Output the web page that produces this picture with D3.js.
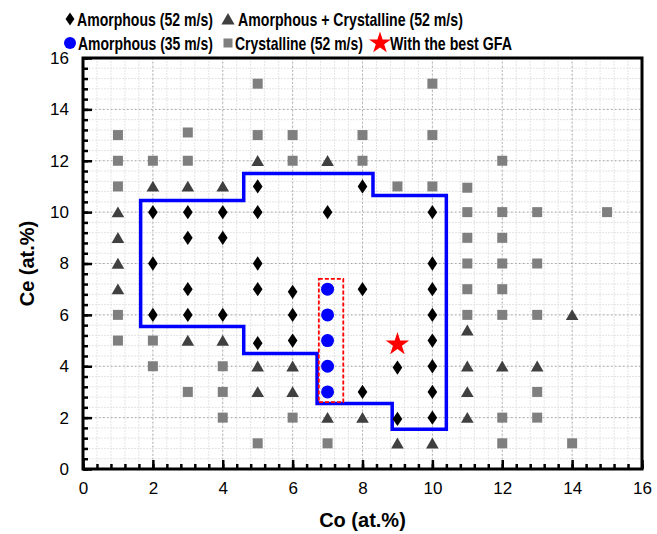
<!DOCTYPE html>
<html>
<head>
<meta charset="utf-8">
<script src="https://cdn.jsdelivr.net/npm/d3@7"></script>
<style>
  body { margin: 0; background: #fff; }
  svg { font-family: "Liberation Sans", Arial, sans-serif; }
</style>
</head>
<body>
<div id="chart"></div>
<script>
// points are [Co, Ce] in at.%
var amorphous52 = [
  [5, 11], [8, 11],
  [2, 10], [3, 10], [4, 10], [5, 10], [7, 10], [10, 10],
  [3, 9], [4, 9],
  [2, 8], [5, 8], [10, 8],
  [3, 7], [5, 7], [6, 6.9], [8, 7], [10, 7],
  [2, 6], [3, 6], [4, 6], [6, 6], [10, 6],
  [5, 4.9], [6, 5], [10, 5],
  [9, 3.95], [10, 4],
  [8, 3], [10, 3],
  [9, 1.95], [10, 2]
];
var amorphousCryst52 = [
  [5, 12], [7, 12],
  [2, 11], [3, 11], [4, 11],
  [1, 10], [1, 9], [1, 8], [1, 7],
  [3, 5], [4, 5],
  [5, 4], [6, 4],
  [5, 3], [6, 3],
  [7, 2], [8, 2],
  [9, 1], [10, 1],
  [14, 6], [11, 5.4],
  [11, 4], [12, 4], [13, 4],
  [11, 3], [11, 2]
];
var crystalline52 = [
  [5, 15], [10, 15],
  [1, 13], [3, 13.1], [5, 13], [6, 13], [8, 13], [10, 13],
  [1, 12], [2, 12], [3, 12], [6, 12], [8, 12], [12, 12],
  [1, 11], [9, 11], [10, 11], [11, 10.95],
  [11, 10], [12, 10], [13, 10], [15, 10],
  [11, 9], [12, 9],
  [11, 8], [12, 8], [13, 8],
  [11, 7], [12, 7],
  [1, 6], [11, 6], [12, 6], [13, 6],
  [1, 5], [2, 5],
  [2, 4], [4, 4],
  [3, 3], [4, 3], [13, 3],
  [4, 2], [6, 2], [12, 2], [13, 2],
  [5, 1], [7, 1], [12, 1], [14, 1]
];
var amorphous35 = [[7, 3], [7, 4], [7, 5], [7, 6], [7, 7]];
var bestGFA = [[9, 4.85]];

// glass forming region outline
var regionOutline = [
  [1.65, 10.45], [4.6, 10.45], [4.6, 11.5], [8.3, 11.5], [8.3, 10.65],
  [10.4, 10.65], [10.4, 1.55], [8.85, 1.55], [8.85, 2.55], [6.7, 2.55],
  [6.7, 4.5], [4.6, 4.5], [4.6, 5.55], [1.65, 5.55]
];
var box35 = [[6.75, 2.6], [7.45, 7.4]];

var xTicks = [0, 2, 4, 6, 8, 10, 12, 14, 16];
var yTicks = [0, 2, 4, 6, 8, 10, 12, 14, 16];
var minorTicks = d3.range(0, 16.01, 0.4);

var legendLabels = ['Amorphous (52 m/s)', 'Amorphous + Crystalline (52 m/s)',
  'Amorphous (35 m/s)', 'Crystalline (52 m/s)', 'With the best GFA'];

(function(d3) {

  'use strict';

  var Chart = function(element) {
    this.element = element;
    this.width = 657;
    this.height = 534;
    this.margin = { top: 58, right: 15, bottom: 65, left: 83 };
    this.svg = null;
    this.plot = null;
  };

  Chart.prototype = {

    init: function() {
      this.setSvg();
      this.setScales();
      this.drawGrid();
      this.drawRegion();
      this.drawPoints();
      this.drawAxes();
      this.drawLegend();
    },

    setSvg: function() {
      this.svg = d3.select(this.element)
        .append('svg')
        .attr('width', this.width)
        .attr('height', this.height);
      this.plot = this.svg.append('g')
        .attr('transform', 'translate(' + this.margin.left + ',' + this.margin.top + ')');
      this.w = this.width - this.margin.left - this.margin.right;
      this.h = this.height - this.margin.top - this.margin.bottom;
    },

    setScales: function() {
      this.x = d3.scaleLinear().domain([0, 16]).range([0, this.w]);
      this.y = d3.scaleLinear().domain([0, 16]).range([this.h, 0]);
    },

    drawGrid: function() {
      var x = this.x, y = this.y, w = this.w, h = this.h;
      var g = this.plot.append('g');

      g.selectAll('.vminor').data(minorTicks).enter().append('line')
        .attr('x1', x).attr('x2', x).attr('y1', 0).attr('y2', h)
        .style('stroke', '#e4e4e4').style('stroke-width', 1)
        .style('stroke-dasharray', '2,1');
      g.selectAll('.hminor').data(minorTicks).enter().append('line')
        .attr('y1', y).attr('y2', y).attr('x1', 0).attr('x2', w)
        .style('stroke', '#e4e4e4').style('stroke-width', 1)
        .style('stroke-dasharray', '2,1');

      g.selectAll('.vmajor').data(xTicks).enter().append('line')
        .attr('x1', x).attr('x2', x).attr('y1', 0).attr('y2', h)
        .style('stroke', '#a8a8a8').style('stroke-width', 1)
        .style('stroke-dasharray', '1.5,2.5');
      g.selectAll('.hmajor').data(yTicks).enter().append('line')
        .attr('y1', y).attr('y2', y).attr('x1', 0).attr('x2', w)
        .style('stroke', '#a8a8a8').style('stroke-width', 1)
        .style('stroke-dasharray', '1.5,2.5');
    },

    drawRegion: function() {
      var x = this.x, y = this.y;
      var line = d3.line()
        .x(function(d) { return x(d[0]); })
        .y(function(d) { return y(d[1]); })
        .curve(d3.curveLinearClosed);

      this.plot.append('path')
        .datum(regionOutline)
        .attr('d', line)
        .style('fill', 'none')
        .style('stroke', '#0000ff')
        .style('stroke-width', 3.5);

      this.plot.append('rect')
        .attr('x', x(box35[0][0]))
        .attr('y', y(box35[1][1]))
        .attr('width', x(box35[1][0]) - x(box35[0][0]))
        .attr('height', y(box35[0][1]) - y(box35[1][1]))
        .style('fill', 'none')
        .style('stroke', '#ff0000')
        .style('stroke-width', 1.8)
        .style('stroke-dasharray', '4,2');
    },

    symbols: {
      diamond: function(s) { return 'M0,' + (-s * 0.62) + 'L' + (s * 0.42) + ',0L0,' + (s * 0.62) + 'L' + (-s * 0.42) + ',0Z'; },
      triangle: function(s) { return 'M0,' + (-s * 0.5) + 'L' + (s * 0.55) + ',' + (s * 0.45) + 'L' + (-s * 0.55) + ',' + (s * 0.45) + 'Z'; },
      square: function(s) { return 'M' + (-s / 2) + ',' + (-s / 2) + 'h' + s + 'v' + s + 'h' + (-s) + 'Z'; }
    },

    setMarks: function(data, path, fill) {
      var x = this.x, y = this.y;
      this.plot.append('g').selectAll('path')
        .data(data)
        .enter()
        .append('path')
        .attr('transform', function(d) { return 'translate(' + x(d[0]) + ',' + y(d[1]) + ')'; })
        .attr('d', path)
        .style('fill', fill);
    },

    drawPoints: function() {
      var x = this.x, y = this.y;
      this.setMarks(crystalline52, this.symbols.square(10), '#7f7f7f');
      this.setMarks(amorphousCryst52, this.symbols.triangle(11.5), '#404040');
      this.setMarks(amorphous52, this.symbols.diamond(11.5), '#000');

      this.plot.append('g').selectAll('circle')
        .data(amorphous35)
        .enter()
        .append('circle')
        .attr('cx', function(d) { return x(d[0]); })
        .attr('cy', function(d) { return y(d[1]); })
        .attr('r', 6.5)
        .style('fill', '#0000ff');

      this.setMarks(bestGFA, d3.symbol().type(d3.symbolStar).size(170)(), '#ff0000');
    },

    drawAxes: function() {
      var x = this.x, y = this.y, w = this.w, h = this.h;

      var xMinor = d3.axisBottom(x).tickValues(minorTicks).tickSize(-5).tickFormat('');
      var yMinor = d3.axisLeft(y).tickValues(minorTicks).tickSize(-5).tickFormat('');
      var xAxis = d3.axisBottom(x).tickValues(xTicks).tickSize(-9).tickPadding(13).tickFormat(d3.format('d'));
      var yAxis = d3.axisLeft(y).tickValues(yTicks).tickSize(-9).tickPadding(14).tickFormat(d3.format('d'));

      var gx = this.plot.append('g').attr('transform', 'translate(0,' + h + ')');
      gx.append('g').call(xMinor);
      gx.append('g').call(xAxis);
      var gy = this.plot.append('g');
      gy.append('g').call(yMinor);
      gy.append('g').call(yAxis);

      this.plot.selectAll('.domain').remove();
      this.plot.selectAll('.tick line').style('stroke', '#000').style('stroke-width', 2.5);
      this.plot.selectAll('.tick text')
        .style('font-size', '17px')
        .style('fill', '#000')
        .style('font-family', '"Liberation Sans", Arial, sans-serif');

      this.plot.append('rect')
        .attr('width', w).attr('height', h)
        .style('fill', 'none')
        .style('stroke', '#000')
        .style('stroke-width', 3);

      this.svg.append('text')
        .attr('x', this.margin.left + w / 2)
        .attr('y', 527)
        .attr('text-anchor', 'middle')
        .style('font-size', '20px')
        .style('font-weight', 'bold')
        .text('Co (at.%)');

      this.svg.append('text')
        .attr('transform', 'translate(34,' + (this.margin.top + h / 2) + ') rotate(-90)')
        .attr('text-anchor', 'middle')
        .style('font-size', '20px')
        .style('font-weight', 'bold')
        .text('Ce (at.%)');
    },

    drawLegend: function() {
      var items = [
        { x: 70, y: 19, tx: 77, len: 136, kind: 'diamond' },
        { x: 228, y: 19, tx: 238, len: 225, kind: 'triangle' },
        { x: 70, y: 43, tx: 78, len: 135, kind: 'circle' },
        { x: 228, y: 43, tx: 235, len: 128, kind: 'square' },
        { x: 380, y: 43, tx: 390, len: 122, kind: 'star' }
      ];
      var sym = this.symbols;
      var g = this.svg.append('g');

      items.forEach(function(it, i) {
        var m = g.append('g').attr('transform', 'translate(' + it.x + ',' + it.y + ')');
        if (it.kind === 'diamond') m.append('path').attr('d', sym.diamond(10.5)).style('fill', '#000');
        if (it.kind === 'triangle') m.append('path').attr('d', sym.triangle(12)).style('fill', '#404040');
        if (it.kind === 'square') m.append('path').attr('d', sym.square(9)).style('fill', '#7f7f7f');
        if (it.kind === 'circle') m.append('circle').attr('r', 6).style('fill', '#0000ff');
        if (it.kind === 'star') m.append('path').attr('d', d3.symbol().type(d3.symbolStar).size(150)()).style('fill', '#ff0000');

        // the original legend font is condensed, so squeeze the text horizontally
        var t = g.append('text')
          .style('font-size', '18px')
          .style('font-weight', 'bold')
          .text(legendLabels[i]);
        var k = it.len / t.node().getComputedTextLength();
        t.attr('transform', 'translate(' + it.tx + ',' + (it.y + 6.5) + ') scale(' + k + ',1)');
      });
    }

  };

  var app = new Chart('#chart');
  app.init();

})(d3);
</script>
</body>
</html>
